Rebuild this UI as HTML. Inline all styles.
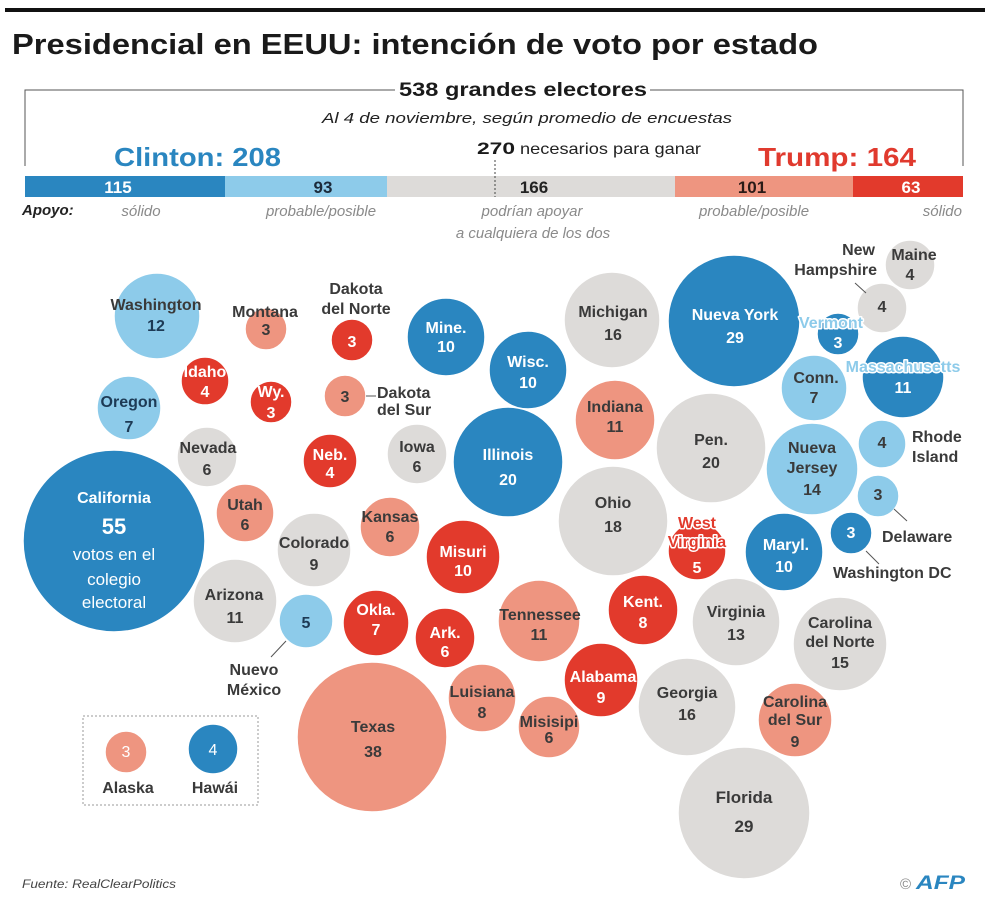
<!DOCTYPE html>
<html>
<head>
<meta charset="utf-8">
<style>
html,body{margin:0;padding:0;background:#fff;}
svg{display:block;}
text{font-family:"Liberation Sans",sans-serif;}
.l{font-size:16px;font-weight:bold;text-anchor:middle;}
.d{fill:#3a3a3a;}
.w{fill:#ffffff;}
.nb{fill:#1d3a55;}
.it{font-style:italic;fill:#8a8a8a;font-size:15px;}
.ol{paint-order:stroke;stroke:#fff;stroke-width:3px;stroke-linejoin:round;}
circle{stroke:#fff;stroke-width:1.5;}
</style>
</head>
<body>
<svg width="990" height="900" viewBox="0 0 990 900" xmlns="http://www.w3.org/2000/svg">
<rect width="990" height="900" fill="#fff"/>
<!-- top rule -->
<rect x="5" y="8" width="980" height="4" fill="#111"/>
<!-- title -->
<text x="12" y="54" font-size="29" font-weight="bold" fill="#1a1a1a" textLength="806" lengthAdjust="spacingAndGlyphs">Presidencial en EEUU: intención de voto por estado</text>

<!-- bracket -->
<path d="M25 166 V90 H395 M650 90 H963 V166" fill="none" stroke="#555" stroke-width="1"/>
<text x="523" y="96" font-size="19" font-weight="bold" fill="#1a1a1a" text-anchor="middle" textLength="248" lengthAdjust="spacingAndGlyphs">538 grandes electores</text>
<text x="527" y="123" font-size="15" font-style="italic" fill="#222" text-anchor="middle" textLength="410" lengthAdjust="spacingAndGlyphs">Al 4 de noviembre, según promedio de encuestas</text>
<text x="477" y="154" font-size="17" font-weight="bold" fill="#1a1a1a" textLength="38" lengthAdjust="spacingAndGlyphs">270</text>
<text x="520" y="154" font-size="16" fill="#222" textLength="181" lengthAdjust="spacingAndGlyphs">necesarios para ganar</text>
<text x="114" y="166" font-size="26" font-weight="bold" fill="#2a86c0" textLength="167" lengthAdjust="spacingAndGlyphs">Clinton: 208</text>
<text x="758" y="166" font-size="26" font-weight="bold" fill="#e03a2e" textLength="158" lengthAdjust="spacingAndGlyphs">Trump: 164</text>

<!-- bar -->
<rect x="25" y="176" width="200" height="21" fill="#2a86c0"/>
<rect x="225" y="176" width="162" height="21" fill="#8dcbea"/>
<rect x="387" y="176" width="288" height="21" fill="#dddbd9"/>
<rect x="675" y="176" width="178" height="21" fill="#ee9580"/>
<rect x="853" y="176" width="110" height="21" fill="#e23a2c"/>
<line x1="495" y1="160" x2="495" y2="197" stroke="#444" stroke-width="1" stroke-dasharray="2,2"/>
<g font-size="17" font-weight="bold" text-anchor="middle">
<text x="118" y="193" fill="#fff">115</text>
<text x="323" y="193" fill="#1b2a3a">93</text>
<text x="534" y="193" fill="#222">166</text>
<text x="752" y="193" fill="#2a1a16">101</text>
<text x="911" y="193" fill="#fff">63</text>
</g>
<text x="22" y="215" font-size="15" font-weight="bold" font-style="italic" fill="#222">Apoyo:</text>
<text class="it" x="141" y="216" text-anchor="middle">sólido</text>
<text class="it" x="321" y="216" text-anchor="middle">probable/posible</text>
<text class="it" x="532" y="216" text-anchor="middle">podrían apoyar</text>
<text class="it" x="533" y="238" text-anchor="middle">a cualquiera de los dos</text>
<text class="it" x="754" y="216" text-anchor="middle">probable/posible</text>
<text class="it" x="962" y="216" text-anchor="end">sólido</text>

<!-- circles -->
<g>
<circle cx="157" cy="316" r="43" fill="#8dcbea"/>
<circle cx="266" cy="329" r="21" fill="#ee9580"/>
<circle cx="352" cy="340" r="21" fill="#e23a2c"/>
<circle cx="446" cy="337" r="39" fill="#2a86c0"/>
<circle cx="205" cy="381" r="24" fill="#e23a2c"/>
<circle cx="271" cy="402" r="21" fill="#e23a2c"/>
<circle cx="345" cy="396" r="21" fill="#ee9580"/>
<circle cx="129" cy="408" r="32" fill="#8dcbea"/>
<circle cx="207" cy="457" r="30" fill="#dddbd9"/>
<circle cx="330" cy="461" r="27" fill="#e23a2c"/>
<circle cx="417" cy="454" r="30" fill="#dddbd9"/>
<circle cx="114" cy="541" r="91" fill="#2a86c0"/>
<circle cx="245" cy="513" r="29" fill="#ee9580"/>
<circle cx="390" cy="527" r="30" fill="#ee9580"/>
<circle cx="314" cy="550" r="37" fill="#dddbd9"/>
<circle cx="463" cy="557" r="37" fill="#e23a2c"/>
<circle cx="508" cy="462" r="55" fill="#2a86c0"/>
<circle cx="528" cy="370" r="39" fill="#2a86c0"/>
<circle cx="612" cy="320" r="48" fill="#dddbd9"/>
<circle cx="734" cy="321" r="66" fill="#2a86c0"/>
<circle cx="615" cy="420" r="40" fill="#ee9580"/>
<circle cx="711" cy="448" r="55" fill="#dddbd9"/>
<circle cx="613" cy="521" r="55" fill="#dddbd9"/>
<circle cx="838" cy="334" r="21" fill="#2a86c0"/>
<circle cx="882" cy="308" r="25" fill="#dddbd9"/>
<circle cx="910" cy="265" r="25" fill="#dddbd9"/>
<circle cx="903" cy="377" r="41" fill="#2a86c0"/>
<circle cx="814" cy="388" r="33" fill="#8dcbea"/>
<circle cx="812" cy="469" r="46" fill="#8dcbea"/>
<circle cx="882" cy="444" r="24" fill="#8dcbea"/>
<circle cx="878" cy="496" r="21" fill="#8dcbea"/>
<circle cx="851" cy="533" r="21" fill="#2a86c0"/>
<circle cx="784" cy="552" r="39" fill="#2a86c0"/>
<circle cx="697" cy="551" r="29" fill="#e23a2c"/>
<circle cx="539" cy="621" r="41" fill="#ee9580"/>
<circle cx="643" cy="610" r="35" fill="#e23a2c"/>
<circle cx="736" cy="622" r="44" fill="#dddbd9"/>
<circle cx="840" cy="644" r="47" fill="#dddbd9"/>
<circle cx="601" cy="680" r="37" fill="#e23a2c"/>
<circle cx="687" cy="707" r="49" fill="#dddbd9"/>
<circle cx="549" cy="727" r="31" fill="#ee9580"/>
<circle cx="482" cy="698" r="34" fill="#ee9580"/>
<circle cx="795" cy="720" r="37" fill="#ee9580"/>
<circle cx="744" cy="813" r="66" fill="#dddbd9"/>
<circle cx="235" cy="601" r="42" fill="#dddbd9"/>
<circle cx="306" cy="621" r="27" fill="#8dcbea"/>
<circle cx="376" cy="623" r="33" fill="#e23a2c"/>
<circle cx="445" cy="638" r="30" fill="#e23a2c"/>
<circle cx="372" cy="737" r="75" fill="#ee9580"/>
</g>

<!-- leader lines -->
<g stroke="#555" stroke-width="1">
<line x1="366" y1="396" x2="376" y2="396"/>
<line x1="855" y1="283" x2="866" y2="293"/>
<line x1="894" y1="509" x2="907" y2="521"/>
<line x1="866" y1="551" x2="879" y2="564"/>
<line x1="286" y1="641" x2="271" y2="657"/>
</g>

<!-- labels -->
<g class="l">
<text x="156" y="310" class="d">Washington</text><text x="156" y="331" class="nb">12</text>
<text x="265" y="317" class="d">Montana</text><text x="266" y="335" class="d">3</text>
<text x="356" y="294" class="d">Dakota</text><text x="356" y="314" class="d">del Norte</text><text x="352" y="347" class="w">3</text>
<text x="446" y="333" class="w">Mine.</text><text x="446" y="352" class="w">10</text>
<text x="205" y="377" class="w">Idaho</text><text x="205" y="397" class="w">4</text>
<text x="271" y="397" class="w">Wy.</text><text x="271" y="418" class="w">3</text>
<text x="345" y="402" class="d">3</text>
<text x="377" y="398" class="d" text-anchor="start">Dakota</text><text x="377" y="415" class="d" text-anchor="start">del Sur</text>
<text x="129" y="407" class="nb">Oregon</text><text x="129" y="432" class="nb">7</text>
<text x="208" y="453" class="d">Nevada</text><text x="207" y="475" class="d">6</text>
<text x="330" y="460" class="w">Neb.</text><text x="330" y="478" class="w">4</text>
<text x="417" y="452" class="d">Iowa</text><text x="417" y="472" class="d">6</text>
<text x="114" y="503" class="w">California</text>
<text x="114" y="534" class="w" font-size="22">55</text>
<text x="114" y="560" class="w" font-weight="normal" font-size="17">votos en el</text>
<text x="114" y="585" class="w" font-weight="normal" font-size="17">colegio</text>
<text x="114" y="608" class="w" font-weight="normal" font-size="17">electoral</text>
<text x="245" y="510" class="d">Utah</text><text x="245" y="530" class="d">6</text>
<text x="390" y="522" class="d">Kansas</text><text x="390" y="542" class="d">6</text>
<text x="314" y="548" class="d">Colorado</text><text x="314" y="570" class="d">9</text>
<text x="463" y="557" class="w">Misuri</text><text x="463" y="576" class="w">10</text>
<text x="508" y="460" class="w">Illinois</text><text x="508" y="485" class="w">20</text>
<text x="528" y="367" class="w">Wisc.</text><text x="528" y="388" class="w">10</text>
<text x="613" y="317" class="d">Michigan</text><text x="613" y="340" class="d">16</text>
<text x="735" y="320" class="w">Nueva York</text><text x="735" y="343" class="w">29</text>
<text x="831" y="328" class="ol" fill="#8dcbea">Vermont</text><text x="838" y="348" class="w">3</text>
<text x="875" y="255" class="d" text-anchor="end">New</text><text x="877" y="275" class="d" text-anchor="end">Hampshire</text>
<text x="882" y="312" class="d">4</text>
<text x="914" y="260" class="d">Maine</text><text x="910" y="280" class="d">4</text>
<text x="903" y="372" class="ol" fill="#8dcbea">Massachusetts</text><text x="903" y="393" class="w">11</text>
<text x="816" y="383" class="d">Conn.</text><text x="814" y="403" class="d">7</text>
<text x="615" y="412" class="d">Indiana</text><text x="615" y="432" class="d">11</text>
<text x="711" y="445" class="d">Pen.</text><text x="711" y="468" class="d">20</text>
<text x="812" y="453" class="d">Nueva</text><text x="812" y="473" class="d">Jersey</text><text x="812" y="495" class="d">14</text>
<text x="882" y="448" class="d">4</text>
<text x="912" y="442" class="d" text-anchor="start">Rhode</text><text x="912" y="462" class="d" text-anchor="start">Island</text>
<text x="878" y="500" class="d">3</text>
<text x="882" y="542" class="d" text-anchor="start">Delaware</text>
<text x="851" y="538" class="w">3</text>
<text x="833" y="578" class="d" text-anchor="start">Washington DC</text>
<text x="613" y="508" class="d">Ohio</text><text x="613" y="532" class="d">18</text>
<text x="697" y="528" class="ol" fill="#e23a2c">West</text><text x="697" y="547" class="ol" fill="#e23a2c">Virginia</text><text x="697" y="573" class="w">5</text>
<text x="786" y="550" class="w">Maryl.</text><text x="784" y="572" class="w">10</text>
<text x="540" y="620" class="d">Tennessee</text><text x="539" y="640" class="d">11</text>
<text x="643" y="607" class="w">Kent.</text><text x="643" y="628" class="w">8</text>
<text x="736" y="617" class="d">Virginia</text><text x="736" y="640" class="d">13</text>
<text x="840" y="628" class="d">Carolina</text><text x="840" y="647" class="d">del Norte</text><text x="840" y="668" class="d">15</text>
<text x="603" y="682" class="w">Alabama</text><text x="601" y="703" class="w">9</text>
<text x="687" y="698" class="d">Georgia</text><text x="687" y="720" class="d">16</text>
<text x="549" y="727" class="d">Misisipi</text><text x="549" y="743" class="d">6</text>
<text x="482" y="697" class="d">Luisiana</text><text x="482" y="718" class="d">8</text>
<text x="795" y="707" class="d">Carolina</text><text x="795" y="725" class="d">del Sur</text><text x="795" y="747" class="d">9</text>
<text x="744" y="803" class="d" font-size="17">Florida</text><text x="744" y="832" class="d" font-size="17">29</text>
<text x="234" y="600" class="d">Arizona</text><text x="235" y="623" class="d">11</text>
<text x="306" y="628" class="nb">5</text>
<text x="254" y="675" class="d">Nuevo</text><text x="254" y="695" class="d">México</text>
<text x="376" y="615" class="w">Okla.</text><text x="376" y="635" class="w">7</text>
<text x="445" y="638" class="w">Ark.</text><text x="445" y="657" class="w">6</text>
<text x="373" y="732" class="d">Texas</text><text x="373" y="757" class="d">38</text>
</g>

<!-- legend box: Alaska / Hawaii -->
<rect x="83" y="716" width="175" height="89" fill="none" stroke="#999" stroke-width="1" stroke-dasharray="2,2"/>
<circle cx="126" cy="752" r="21" fill="#ee9580"/>
<circle cx="213" cy="749" r="25" fill="#2a86c0"/>
<g class="l">
<text x="126" y="757" class="w" font-weight="normal">3</text>
<text x="213" y="755" class="w" font-weight="normal">4</text>
<text x="128" y="793" class="d">Alaska</text>
<text x="215" y="793" class="d">Hawái</text>
</g>

<!-- footer -->
<text x="22" y="888" font-size="12" font-style="italic" fill="#444" textLength="154" lengthAdjust="spacingAndGlyphs">Fuente: RealClearPolitics</text>
<text x="900" y="889" font-size="15" fill="#888">©</text>
<text x="916" y="889" font-size="19" font-weight="bold" font-style="italic" fill="#2a86c0" textLength="49" lengthAdjust="spacingAndGlyphs">AFP</text>
</svg>
</body>
</html>
